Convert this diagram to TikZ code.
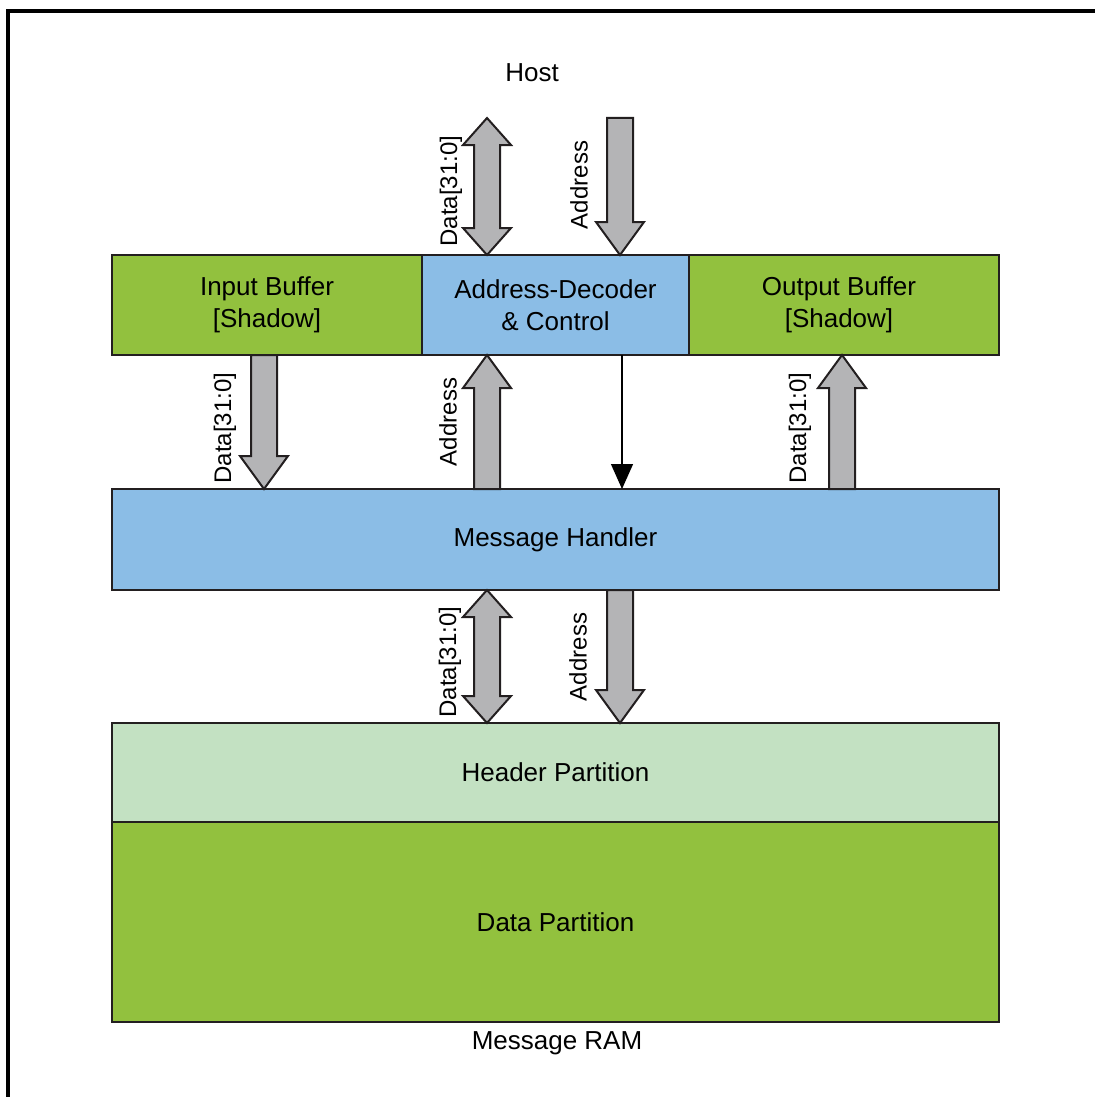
\documentclass[tikz,border=0pt]{standalone}
\usepackage{fontspec}
\setmainfont{Liberation Sans}
\usetikzlibrary{arrows.meta,calc}
\definecolor{ramgreen}{RGB}{146,193,62}
\definecolor{ctlblue}{RGB}{139,189,230}
\definecolor{hdrgreen}{RGB}{195,225,194}
\definecolor{busgray}{RGB}{180,180,182}
\definecolor{edge}{RGB}{35,31,32}
\begin{document}
\begin{tikzpicture}[x=1pt,y=-1pt,every node/.style={outer sep=0pt, inner sep=0pt, align=center, font=\fontsize{26}{32}\selectfont},
  box/.style={draw=edge, line width=2.8pt, minimum height=100pt},
  lbl/.style={rotate=90, font=\fontsize{24}{28}\selectfont},
  fatone/.style={draw=edge, fill=busgray, line width=2pt,
    to path={let \p1=(\tikztostart), \p2=(\tikztotarget), \p3=($(\tikztotarget)!33pt!(\tikztostart)$) in
      (\x1-13pt,\y1) -- (\x1-13pt,\y3) -- (\x1-24pt,\y3) -- (\x2,\y2) -- (\x1+24pt,\y3) -- (\x1+13pt,\y3) -- (\x1+13pt,\y1) -- cycle}},
  fattwo/.style={draw=edge, fill=busgray, line width=2pt,
    to path={let \p1=(\tikztostart), \p2=(\tikztotarget), \p3=($(\tikztotarget)!27pt!(\tikztostart)$), \p4=($(\tikztostart)!27pt!(\tikztotarget)$) in
      (\x1,\y1) -- (\x1+24pt,\y4) -- (\x1+13pt,\y4) -- (\x1+13pt,\y3) -- (\x1+24pt,\y3) -- (\x2,\y2) -- (\x1-24pt,\y3) -- (\x1-13pt,\y3) -- (\x1-13pt,\y4) -- (\x1-24pt,\y4) -- cycle}},
  ctlarrow/.style={draw=black, line width=1.3pt, -{Triangle[width=22pt,length=25pt]}}]

\useasboundingbox (0,0) rectangle (1095,1097);
\draw[line width=3.5pt] (8,1097) -- (8,11) -- (1095,11);

\node (host) at (532,73) {Host};
\node (ram) at (557,1043) {Message RAM};

\node[box, fill=ramgreen, minimum width=310pt] (ibuf) at (267,305) {Input Buffer\\{}[Shadow]};
\node[box, fill=ctlblue, minimum width=267pt] (adc) at (555.5,305) {Address-Decoder\\\& Control};
\node[box, fill=ramgreen, minimum width=310pt] (obuf) at (844,305) {};
\node (obuftext) at (839,305) {Output Buffer\\{}[Shadow]};
\node[box, fill=ctlblue, minimum width=887pt, minimum height=101pt] (mh) at (555.5,539.5) {Message Handler};
\node[box, fill=hdrgreen, minimum width=887pt, minimum height=99pt] (hp) at (555.5,772.5) {Header Partition};
\node[box, fill=ramgreen, minimum width=887pt, minimum height=200pt] (dp) at (555.5,922) {Data Partition};

\coordinate (hostdata) at (487,118);
\coordinate (hostaddr) at (620,118);

\draw[fattwo] (hostdata) to ([xshift=-68.5pt]adc.north);
\draw[fatone] (hostaddr) to ([xshift=64.5pt]adc.north);
\draw[fatone] ([xshift=-3pt]ibuf.south) to ([xshift=-291.5pt]mh.north);
\draw[fatone] ([xshift=-68.5pt]mh.north) to ([xshift=-68.5pt]adc.south);
\draw[ctlarrow] ([xshift=66.5pt]adc.south) -- ([xshift=66.5pt]mh.north);
\draw[fatone] ([xshift=286.5pt]mh.north) to ([xshift=-2pt]obuf.south);
\draw[fattwo] ([xshift=-68.5pt]mh.south) to ([xshift=-68.5pt]hp.north);
\draw[fatone] ([xshift=64.5pt]mh.south) to ([xshift=64.5pt]hp.north);

\node[lbl] at (451,191) {Data[31:0]};
\node[lbl] at (579,185) {Address};
\node[lbl] at (225,428) {Data[31:0]};
\node[lbl] at (448,422) {Address};
\node[lbl] at (800,428) {Data[31:0]};
\node[lbl] at (450,662) {Data[31:0]};
\node[lbl] at (578,657) {Address};
\end{tikzpicture}
\end{document}
